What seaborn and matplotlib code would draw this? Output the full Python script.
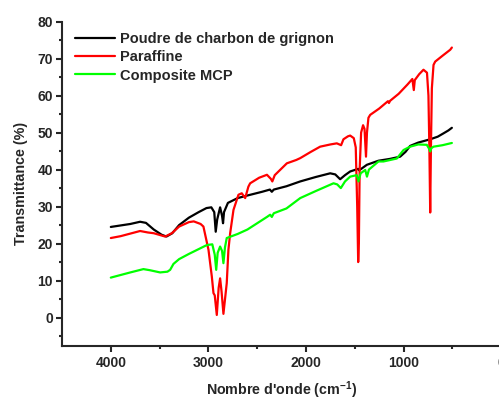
import matplotlib
matplotlib.use("Agg")
import matplotlib.pyplot as plt
import pandas as pd
import seaborn as sns

# Spectres FTIR (nombre d'onde en cm-1, transmittance en %)
charbon_x = [4000, 3900, 3800, 3700, 3640, 3560, 3480, 3430, 3370, 3300, 3200, 3100,
             3020, 2970, 2940, 2925, 2910, 2880, 2860, 2850, 2840, 2800, 2700, 2600,
             2450, 2370, 2350, 2330, 2200, 2059, 1900, 1752, 1700, 1650, 1600, 1547,
             1465, 1455, 1376, 1257, 1138, 1035, 980, 933, 850, 727, 650, 591, 540, 505]
charbon_y = [24.5, 24.9, 25.3, 25.9, 25.6, 23.8, 22.4, 21.9, 22.8, 25.0, 27.0, 28.5,
             29.6, 29.8, 28.5, 23.2, 26.5, 29.8, 27.5, 25.5, 28.5, 31.0, 32.3, 33.0,
             34.0, 34.6, 34.0, 34.6, 35.5, 36.8, 38.0, 39.0, 38.7, 37.4, 38.5, 39.5,
             40.2, 39.8, 41.3, 42.4, 42.9, 43.5, 44.8, 46.4, 47.3, 48.2, 48.9, 49.8, 50.6, 51.3]

paraffine_x = [4000, 3900, 3800, 3700, 3620, 3560, 3443, 3375, 3300, 3200, 3150, 3080,
               3051, 2999, 2965, 2948, 2935, 2914, 2895, 2880, 2865, 2846, 2812, 2795,
               2777, 2743, 2692, 2658, 2623, 2590, 2572, 2480, 2400, 2360, 2345, 2320,
               2196, 2100, 2059, 1950, 1855, 1750, 1684, 1640, 1616, 1570, 1547, 1510,
               1490, 1475, 1465, 1458, 1450, 1435, 1415, 1400, 1385, 1375, 1360, 1342,
               1250, 1160, 1150, 1138, 1050, 960, 910, 895, 885, 840, 796, 760, 745,
               735, 727, 720, 710, 693, 676, 600, 522, 505]
paraffine_y = [21.5, 22.0, 22.7, 23.4, 23.0, 22.8, 21.9, 22.8, 24.6, 25.8, 26.0, 25.3,
               24.6, 18.3, 11.1, 6.6, 6.0, 0.7, 8.0, 10.6, 7.0, 1.0, 9.3, 18.3,
               22.8, 29.1, 33.2, 33.6, 32.3, 35.4, 36.3, 37.8, 38.6, 37.5, 36.8, 38.5,
               41.7, 42.6, 43.1, 44.8, 46.2, 46.8, 47.1, 46.6, 48.2, 49.0, 49.2, 48.5,
               46.0, 30.0, 15.0, 20.0, 40.0, 50.0, 52.0, 51.0, 43.5, 50.0, 54.0, 54.8,
               56.5, 58.5, 58.0, 58.6, 60.5, 63.0, 64.5, 61.5, 64.2, 65.8, 67.0, 66.2, 60.0,
               45.0, 28.4, 45.0, 62.0, 68.3, 69.2, 70.8, 72.4, 73.0]

composite_x = [4000, 3900, 3800, 3666, 3600, 3495, 3420, 3392, 3358, 3300, 3200, 3100,
               3016, 2960, 2935, 2920, 2905, 2880, 2860, 2846, 2830, 2812, 2700, 2600,
               2500, 2400, 2367, 2350, 2330, 2200, 2059, 1900, 1718, 1680, 1643, 1600,
               1547, 1480, 1462, 1440, 1393, 1375, 1355, 1257, 1206, 1069, 1000, 933,
               850, 762, 735, 727, 715, 693, 600, 505]
composite_y = [10.8, 11.5, 12.2, 13.1, 12.8, 12.2, 12.4, 12.9, 14.5, 15.8, 17.2, 18.5,
               19.6, 19.8, 17.0, 12.9, 17.5, 19.2, 18.0, 14.7, 19.0, 21.5, 22.6, 23.8,
               25.5, 27.2, 27.8, 27.2, 28.2, 29.5, 32.3, 34.2, 36.3, 36.0, 35.0, 36.8,
               38.1, 38.5, 36.8, 39.0, 39.9, 38.1, 40.0, 42.2, 42.2, 43.0, 45.3, 46.2,
               46.8, 46.7, 45.5, 44.9, 45.8, 46.2, 46.6, 47.2]

series_names = ["Poudre de charbon de grignon", "Paraffine", "Composite MCP"]
series_colors = ["#000000", "#ff0000", "#00ff00"]


def build_frame():
    frames = []
    for name, xs, ys in zip(series_names,
                            [charbon_x, paraffine_x, composite_x],
                            [charbon_y, paraffine_y, composite_y]):
        frames.append(pd.DataFrame({"onde": xs, "T": ys, "echantillon": name}))
    return pd.concat(frames, ignore_index=True)


def main():
    sns.set_style("ticks")
    plt.rcParams["font.family"] = ["Liberation Sans", "DejaVu Sans"]
    plt.rcParams["font.weight"] = "bold"
    plt.rcParams["mathtext.fontset"] = "custom"
    plt.rcParams["mathtext.rm"] = "Liberation Sans:bold"
    plt.rcParams["mathtext.default"] = "rm"

    data = build_frame()

    fig = plt.figure(figsize=(4.99, 4.01), dpi=100)
    ax = fig.add_axes([0.1243, 0.138, 0.88, 0.808])

    sns.lineplot(data=data, x="onde", y="T", hue="echantillon", hue_order=series_names,
                 palette=series_colors, estimator=None, sort=False, linewidth=1.6, ax=ax)

    ax.set_xlim(4500, 0)
    ax.set_ylim(-7.6, 80)
    ax.set_xticks([4000, 3000, 2000, 1000, 0])
    ax.set_xticks(range(500, 4500, 1000), minor=True)
    ax.set_yticks(range(0, 90, 10))
    ax.set_yticks(range(-5, 80, 10), minor=True)

    for side in ["top", "right"]:
        ax.spines[side].set_visible(False)
    for side in ["left", "bottom"]:
        ax.spines[side].set_linewidth(1.5)
    ax.tick_params(which="major", length=4, width=1.5, labelsize=10, pad=2.5)
    ax.tick_params(which="minor", length=2.5, width=1.5)
    ax.tick_params(axis="x", which="major", pad=3.5)

    ax.set_xlabel("Nombre d'onde (cm$^{-1}$)", fontsize=10.3, fontweight="bold")
    ax.set_ylabel("Transmittance (%)", fontsize=10.3, fontweight="bold")
    ax.xaxis.set_label_coords(0.501, -0.104)
    ax.yaxis.set_label_coords(-0.0775, 0.5)

    leg = ax.legend(loc="upper left", bbox_to_anchor=(0.0296, 0.967), frameon=False,
                    borderaxespad=0, borderpad=0, handlelength=2.75, handletextpad=0.34,
                    labelspacing=0.28, prop={"size": 10.5, "weight": "bold"})
    for line in leg.get_lines():
        line.set_linewidth(1.6)

    fig.savefig("out.png", dpi=100)
    plt.close(fig)


if __name__ == "__main__":
    main()
